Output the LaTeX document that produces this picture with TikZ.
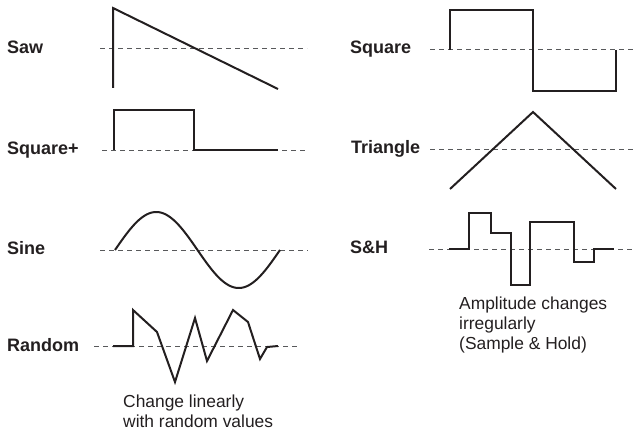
\documentclass[tikz,border=0pt]{standalone}
\usepackage{fontspec}
\setmainfont{Liberation Sans}
\definecolor{ink}{HTML}{231F20}
\definecolor{dashgray}{HTML}{58595B}
\begin{document}
\begin{tikzpicture}[x=1pt,y=-1pt,
  lbl/.style={font=\fontsize{18}{20}\selectfont\bfseries, text=ink, inner sep=0pt, anchor=base west},
  capt/.style={font=\fontsize{17.4}{20}\selectfont, text=ink, inner sep=0pt, anchor=base west, align=left},
  axisline/.style={draw=dashgray, line width=1pt, dash pattern=on 5pt off 4pt},
  wave/.style={draw=ink, line width=2pt, line join=miter}]
\useasboundingbox (0,0) rectangle (636,433);

% ---- Saw ----
\node[lbl] (saw) at (7,53.5) {Saw};
\coordinate (sawA) at (100,49); \coordinate (sawB) at (307,49);
\draw[axisline] (sawA) -- (sawB);
\draw[wave] (113,88) -- (113,8) -- (278,89);

% ---- Square+ ----
\node[lbl] (sqp) at (7,154) {Square+};
\coordinate (sqpA) at (102,150); \coordinate (sqpB) at (308,150);
\draw[axisline] (sqpA) -- (sqpB);
\draw[wave] (114,150) -- (114,110) -- (194,110) -- (194,149.5) -- (278,149.5);

% ---- Sine ----
\node[lbl] (sine) at (7,254) {Sine};
\coordinate (sineA) at (100,250); \coordinate (sineB) at (308,250);
\draw[axisline] (sineA) -- (sineB);
\draw[wave] plot[domain=0:360, samples=120, smooth] ({115+\x/360*165},{250-38*sin(\x)});

% ---- Random ----
\node[lbl] (rnd) at (7,351) {Random};
\coordinate (rndA) at (94,346); \coordinate (rndB) at (300,346);
\draw[axisline] (rndA) -- (rndB);
\draw[wave] (113,346) -- (133,346) -- (133,310) -- (157,332) -- (175,382) -- (195,318)
  -- (207,361) -- (233,310) -- (248,322) -- (260,359) -- (267,347) -- (278,346);
\node[capt] (rndcap) at (123,427.7) {Change linearly\\with random values};

% ---- Square ----
\node[lbl] (sq) at (350,54) {Square};
\coordinate (sqA) at (430,50); \coordinate (sqB) at (636,50);
\draw[axisline] (sqA) -- (sqB);
\draw[wave] (450,50) -- (450,10) -- (533,10) -- (533,91) -- (616,91) -- (616,50);

% ---- Triangle ----
\node[lbl] (tri) at (351,153.5) {Triangle};
\coordinate (triA) at (430,149); \coordinate (triB) at (636,149);
\draw[axisline] (triA) -- (triB);
\draw[wave] (450,189) -- (533,112) -- (616,189);

% ---- S&H ----
\node[lbl] (sh) at (350,253.5) {S\&H};
\coordinate (shA) at (429,249); \coordinate (shB) at (636,249);
\draw[axisline] (shA) -- (shB);
\draw[wave] (449,249) -- (469,249) -- (469,213) -- (491,213) -- (491,233) -- (511,233)
  -- (511,285) -- (530,285) -- (530,222) -- (574,222) -- (574,262) -- (594,262)
  -- (594,249) -- (614,249);
\node[capt] (shcap) at (459,349.5) {Amplitude changes\\irregularly\\(Sample \& Hold)};
\end{tikzpicture}
\end{document}
